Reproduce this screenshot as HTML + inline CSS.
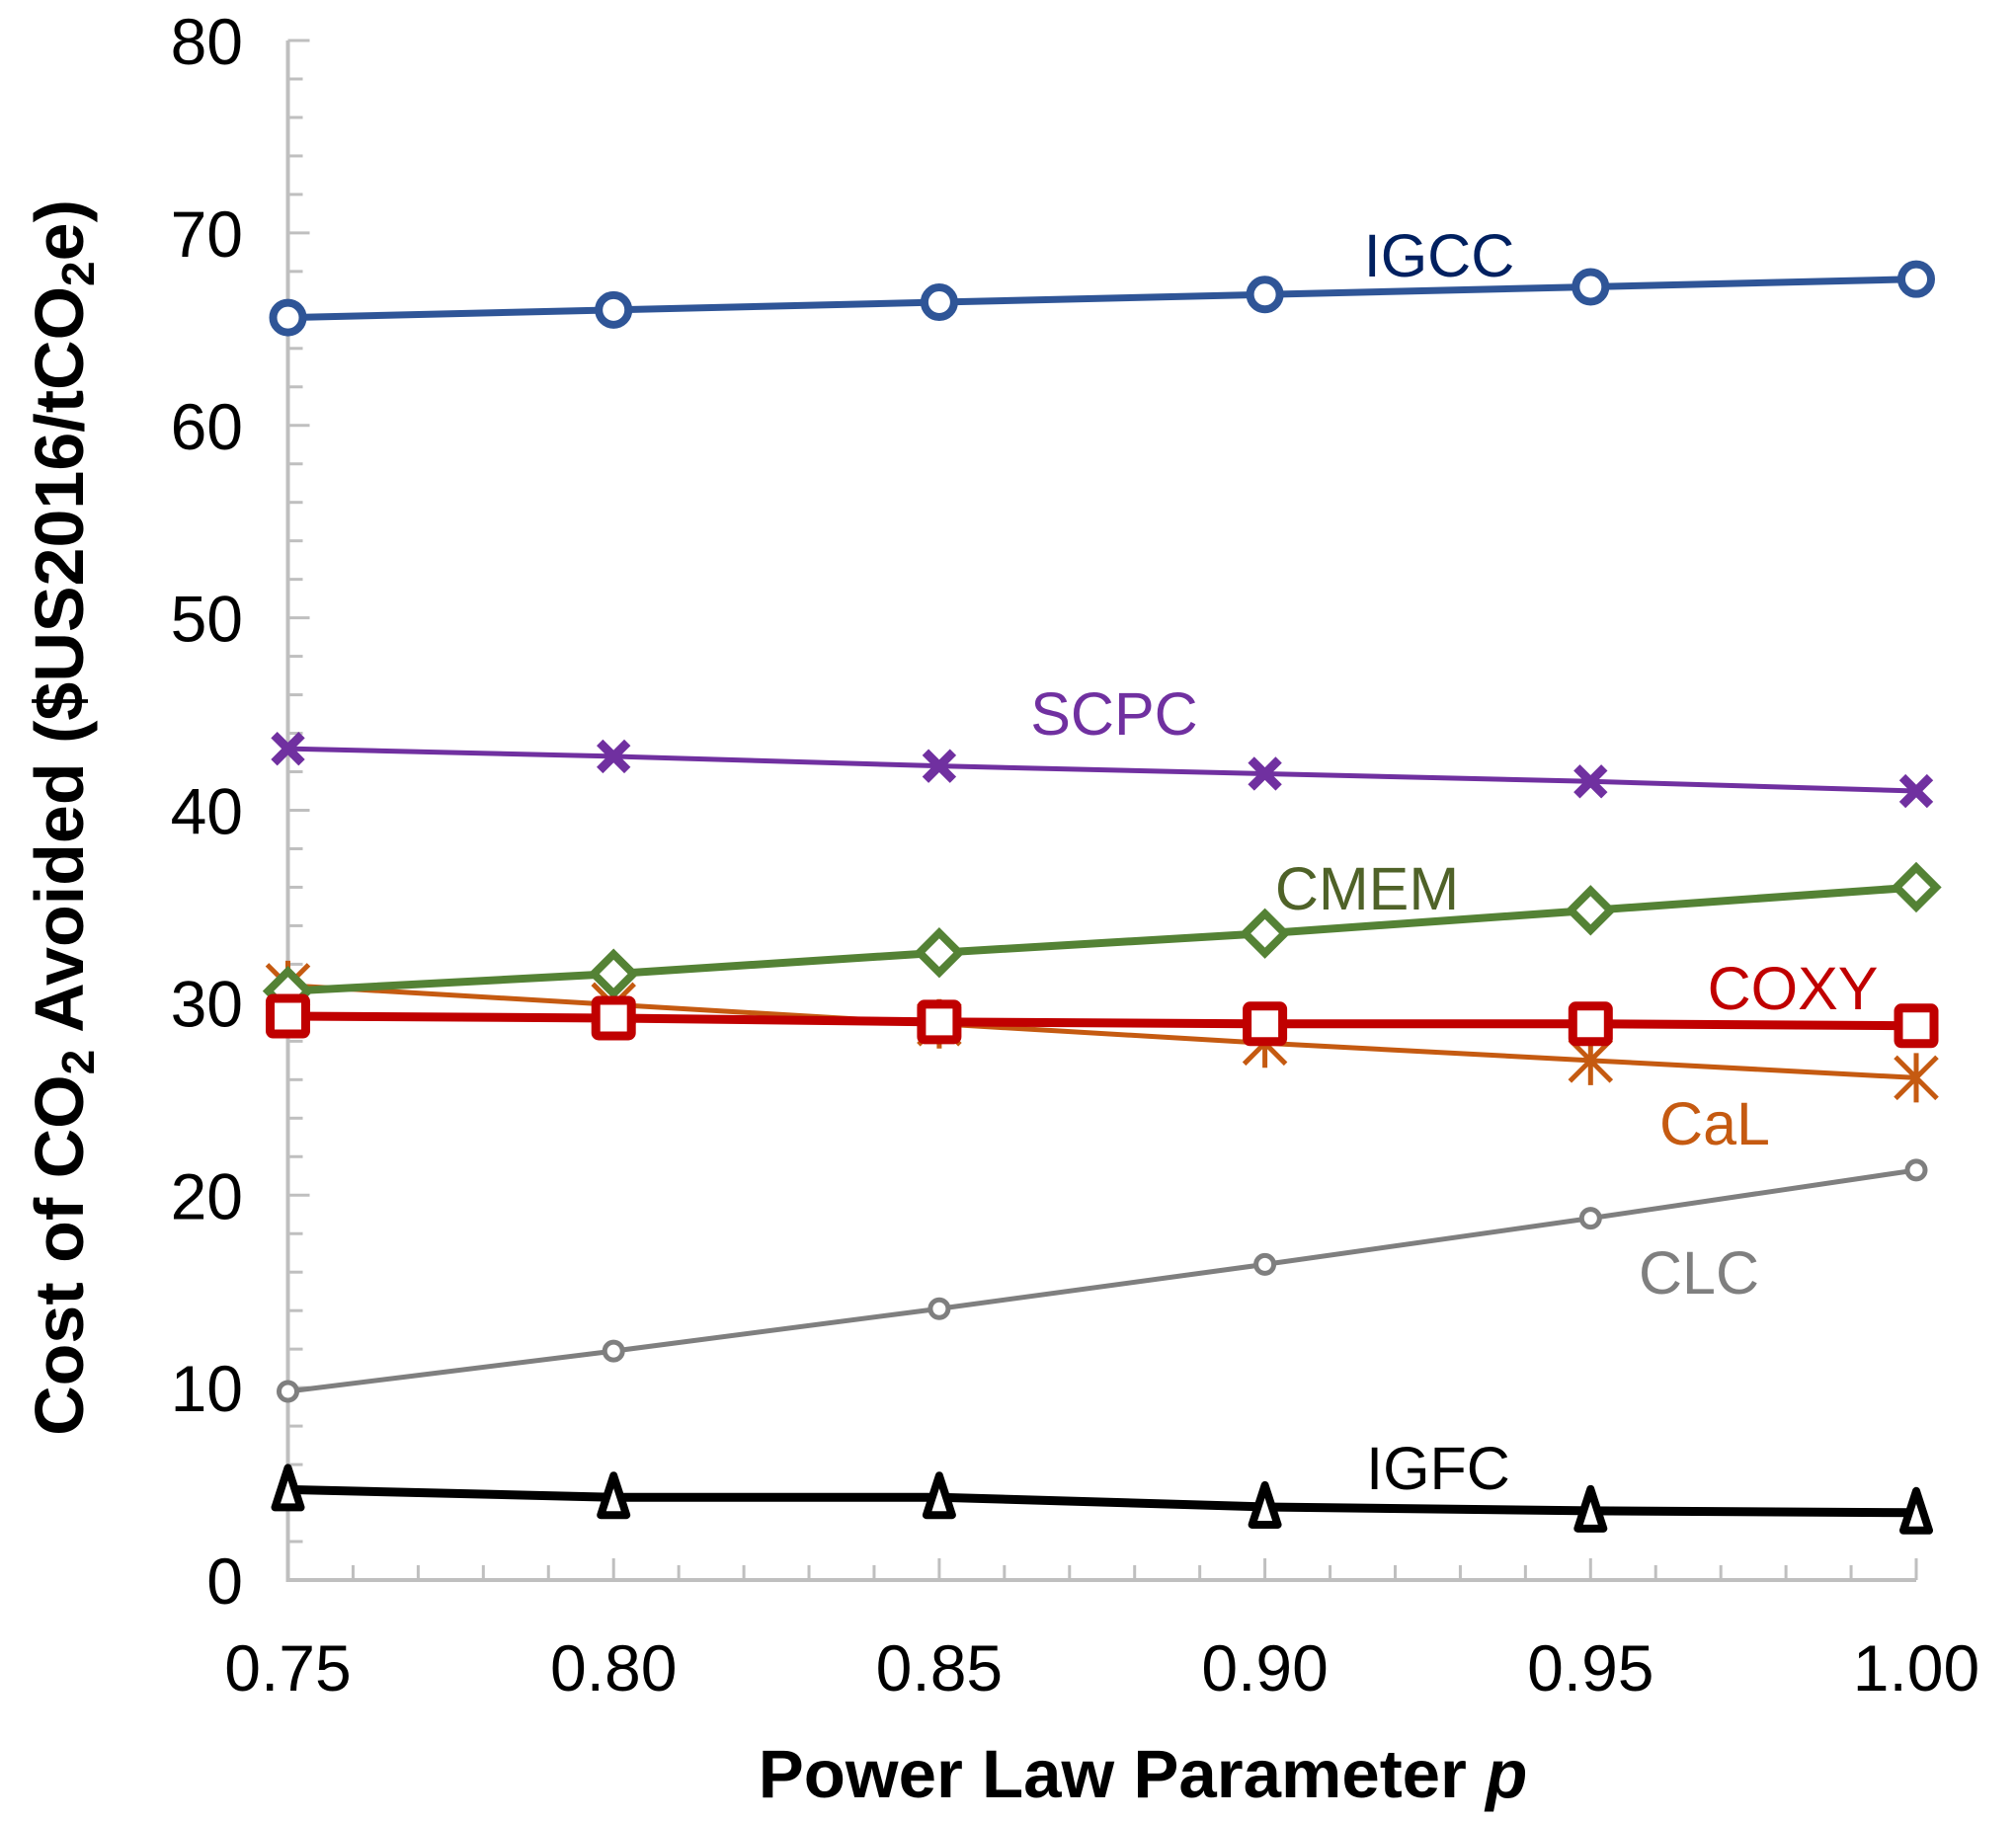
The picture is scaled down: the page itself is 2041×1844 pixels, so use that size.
<!DOCTYPE html>
<html><head><meta charset="utf-8"><style>
html,body{margin:0;padding:0;background:#fff}
svg{display:block;font-family:"Liberation Sans",Arial,sans-serif}
</style></head><body>
<svg id="chart" width="2041" height="1844" viewBox="0 0 2041 1844" xmlns="http://www.w3.org/2000/svg">
<g id="axes"></g>
<g id="series"></g>
<text x="1157" y="1820" font-size="69" font-weight="bold" text-anchor="middle">Power Law Parameter <tspan font-style="italic">p</tspan></text>
<text transform="translate(84,828) rotate(-90)" font-size="70" font-weight="bold" text-anchor="middle">Cost of CO<tspan font-size="46" dy="11">2</tspan><tspan dy="-11"> Avoided ($US2016/tCO</tspan><tspan font-size="46" dy="11">2</tspan><tspan dy="-11">e)</tspan></text>
</svg>
<script>
const xValues = [0.75, 0.80, 0.85, 0.90, 0.95, 1.00];
const xTickLabels = ["0.75","0.80","0.85","0.90","0.95","1.00"];
const yTickValues = [0,10,20,30,40,50,60,70,80];
const igcc = [65.6, 66.0, 66.4, 66.8, 67.2, 67.6];
const scpc = [43.2, 42.8, 42.3, 41.9, 41.5, 41.0];
const cmem = [30.6, 31.5, 32.6, 33.6, 34.8, 36.0];
const coxy = [29.3, 29.2, 29.0, 28.9, 28.9, 28.8];
const cal  = [30.9, 29.9, 28.9, 27.9, 27.0, 26.1];
const clc  = [9.8, 11.9, 14.1, 16.4, 18.8, 21.3];
const igfc = [4.7, 4.3, 4.3, 3.8, 3.6, 3.5];

const NS = "http://www.w3.org/2000/svg";
const X0 = 291.5, X1 = 1940, Y0 = 1600, Y80 = 41;
const xs = v => X0 + (v - 0.75) / 0.25 * (X1 - X0);
const ys = v => Y0 - v / 80 * (Y0 - Y80);
function mk(tag, attrs, parent) {
  const e = document.createElementNS(NS, tag);
  for (const k in attrs) e.setAttribute(k, attrs[k]);
  parent.appendChild(e);
  return e;
}
const axes = document.getElementById('axes');
const grey = "#bfbfbf";
let e = mk('line', {x1: X0, y1: ys(80), x2: X0, y2: Y0 + 2, stroke: grey, 'stroke-width': 4}, axes);


for (let v = 0; v <= 80; v += 2) {
  const major = v % 10 === 0;
  e = mk('line', {x1: X0, y1: ys(v), x2: X0 + (major ? 22 : 15), y2: ys(v), stroke: grey, 'stroke-width': 3}, axes);
  
  
}
yTickValues.forEach(v => {
  const t = mk('text', {x: 246, y: ys(v) + 24, 'font-size': 66, 'text-anchor': 'end', fill: '#000'}, axes);
  t.textContent = String(v);
  
  
});
e = mk('line', {x1: X0 - 2, y1: Y0, x2: X1, y2: Y0, stroke: grey, 'stroke-width': 4}, axes);


for (let i = 0; i <= 25; i++) {
  const major = i % 5 === 0;
  const x = xs(0.75 + i * 0.01);
  e = mk('line', {x1: x, y1: Y0, x2: x, y2: Y0 - (major ? 22 : 15), stroke: grey, 'stroke-width': 3}, axes);
  
  
}
xValues.forEach((v, i) => {
  const t = mk('text', {x: xs(v), y: 1712, 'font-size': 66, 'text-anchor': 'middle', fill: '#000'}, axes);
  t.textContent = xTickLabels[i];
  
  
});

const seriesG = document.getElementById('series');
function drawSeries(name, vals, color, lw, marker, label, lx, ly, lcolor) {
  const g = mk('g', {}, seriesG);
  
  
  const pts = vals.map((v, i) => xs(xValues[i]) + ',' + ys(v)).join(' ');
  const pl = mk('polyline', {points: pts, fill: 'none', stroke: color, 'stroke-width': lw, 'stroke-linejoin': 'round'}, g);
  
  
  vals.forEach((v, i) => {
    const x = xs(xValues[i]), y = ys(v);
    let m;
    if (marker === 'circle') m = mk('circle', {cx: x, cy: y, r: 15, fill: '#fff', stroke: color, 'stroke-width': 8}, g);
    else if (marker === 'smallcircle') m = mk('circle', {cx: x, cy: y, r: 9, fill: '#fff', stroke: color, 'stroke-width': 5}, g);
    else if (marker === 'square') m = mk('rect', {x: x - 18, y: y - 18, width: 36, height: 36, rx: 3, fill: '#fff', stroke: color, 'stroke-width': 9}, g);
    else if (marker === 'diamond') m = mk('polygon', {points: `${x},${y-20} ${x+20},${y} ${x},${y+20} ${x-20},${y}`, fill: '#fff', stroke: color, 'stroke-width': 8}, g);
    else if (marker === 'triangle') m = mk('polygon', {points: `${x},${y-22} ${x+13},${y+18} ${x-13},${y+18}`, fill: '#fff', stroke: '#000', 'stroke-width': 8, 'stroke-linejoin': 'round'}, g);
    else if (marker === 'x') m = mk('path', {d: `M${x-14},${y-14}L${x+14},${y+14}M${x+14},${y-14}L${x-14},${y+14}`, stroke: color, 'stroke-width': 9}, g);
    else if (marker === 'star') m = mk('path', {d: `M${x-21},${y-21}L${x+21},${y+21}M${x+21},${y-21}L${x-21},${y+21}M${x},${y-25}L${x},${y+25}`, stroke: color, 'stroke-width': 5}, g);
    
    
  });
  const t = mk('text', {x: lx, y: ly, 'font-size': 61, 'text-anchor': 'middle', fill: lcolor}, g);
  t.textContent = label;
  
  
}
drawSeries('clc', clc, '#7f7f7f', 5, 'smallcircle', 'CLC', 1720, 1310, '#7f7f7f');
drawSeries('cal', cal, '#c55a11', 5, 'star', 'CaL', 1736, 1159, '#c55a11');
drawSeries('cmem', cmem, '#548235', 8, 'diamond', 'CMEM', 1384, 921, '#4f6228');
drawSeries('coxy', coxy, '#c00000', 9, 'square', 'COXY', 1815, 1022, '#c00000');
drawSeries('scpc', scpc, '#7030a0', 5, 'x', 'SCPC', 1128, 744, '#7030a0');
drawSeries('igcc', igcc, '#2f5597', 7, 'circle', 'IGCC', 1457, 280, '#002060');
drawSeries('igfc', igfc, '#000000', 9, 'triangle', 'IGFC', 1456, 1508, '#000');
</script>
</body></html>
